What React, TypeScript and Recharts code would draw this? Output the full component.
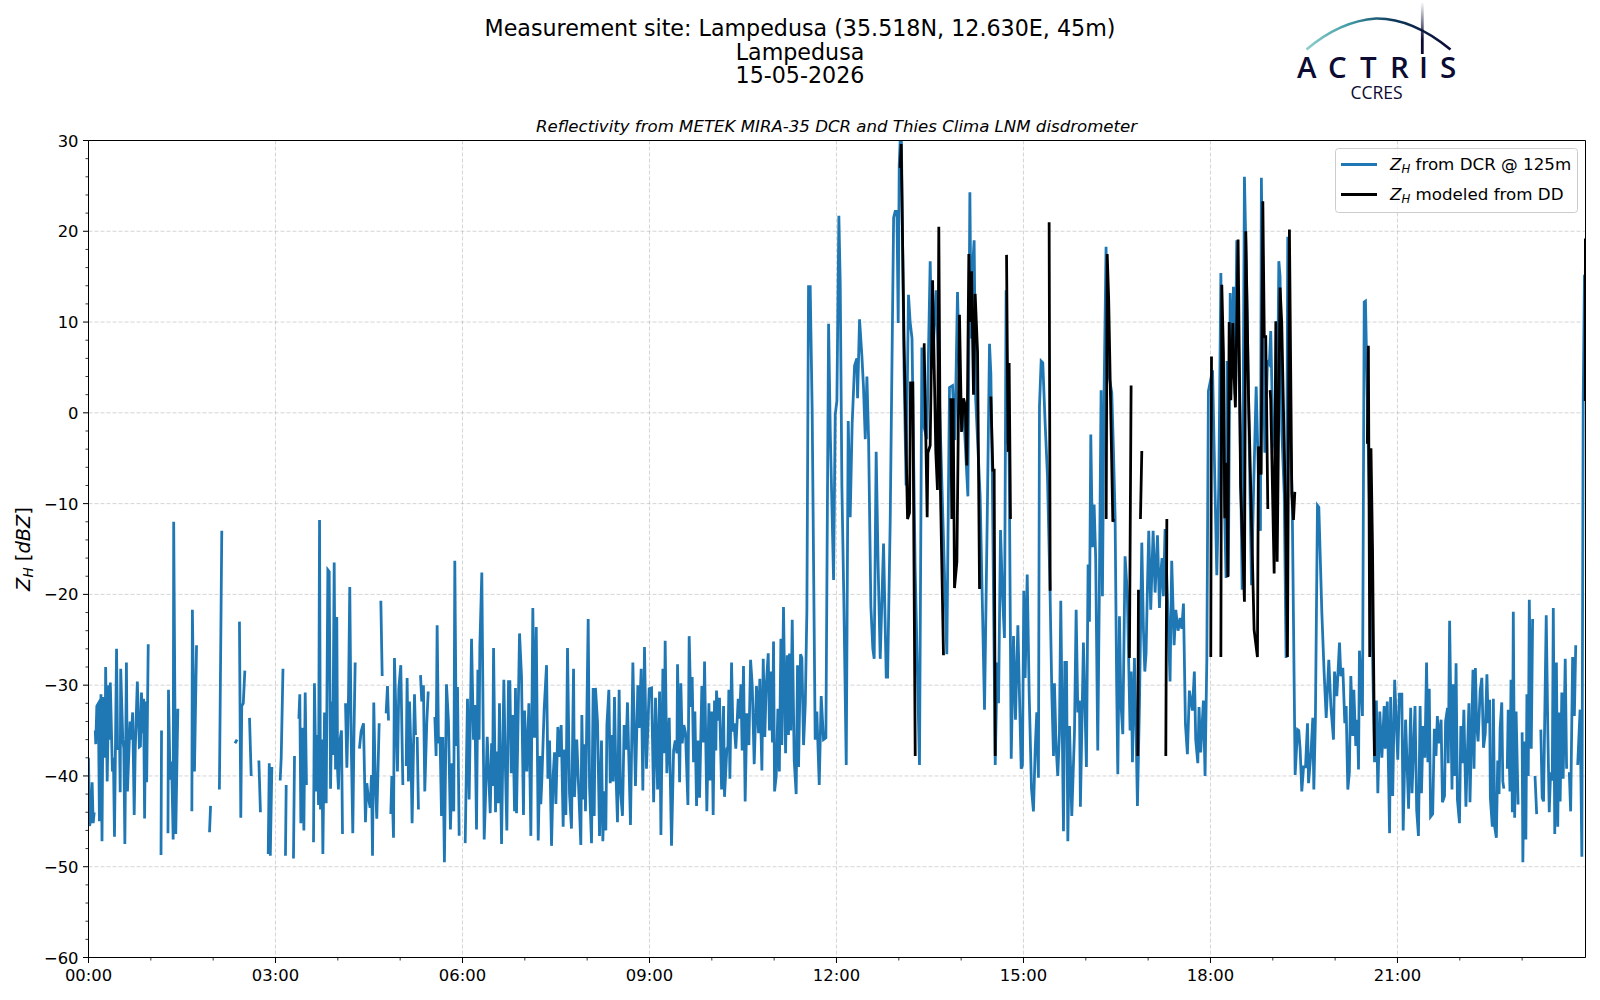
import React from "react";
import { LineChart, Line, XAxis, YAxis, CartesianGrid, ReferenceLine, Legend } from "recharts";

type P = [number, number | null];
const g = null;

const dcrNight1: P[] = [
[0,-38],[1,-45.5],[2,-45],[3.5,-40.7],[4.5,-45.2],[5.5,-44],[5.8,g],
[6.5,-35],[7,-36.5],[8,-32.3],[9.5,-32],[10.5,-45],[12,-31],[13,-47.2],[14,-31.3],[16,-38],[16.5,-28],[18,-40.6],[19.5,-30],[20.5,-36],[21,-29.7],[23,-39.5],[24,-38],[25,-46.7],[27,-26],[28,-37],[30,-37],[30.5,-41.8],[31,-28.2],[33,-36],[34,-37],[35,-47.5],[36.5,-27.5],[37.5,-41.7],[39,-37],[40,-34],[41,-36],[42.5,-33],[44,-44.3],[45,-37],[47,-29.6],[49,-36.8],[50,-36.7],[51,-30.8],[52,-35.3],[53,-31.5],[54,-44.7],[55,-31.8],[56,-40.7],[57.5,-25.5],[60,g],
[69.8,-48.7],[70.3,-35],[72,g],[76.5,-46.3],[77,-30.5],[78.5,-40.4],[80,-38.4],[81.5,-47],[82,-12],[84,-46.4],[86,-32.6],[88,g],
[99.5,-43.9],[100,-21.7],[102,-39.5],[104,-25.6],[106,g],[116.5,-46.2],[117.5,-43.3],[120,g],[126,-41.5],[128.3,-13],[130,g],
[141,-36.4],[143,-36],[144,g],[145.3,-23],[146.6,-44.6],[147.5,-32.3],[149,-32],[150.5,-28.4],[152,g],[155,-33.6],[156.6,-40],[158,g],[164,-38.3],[165.5,-44],[167,g],
[173,-48.6],[174,-38.6],[175,-48.8],[176.5,-39],[178,g],[184.5,-40.5],[185.5,-38],[187.2,-28.2],[188,g],[189.6,-48.8],[190.3,-41],[192,g],[197.3,-49.1],[198.3,-37.8],[200,g],
[202.5,-33.7],[203.4,-31],[204.4,-45.2],[205.7,-34.7],[207.3,-46],[208.6,-30.8],[209.8,-41],[212,g],
[216.6,-47.3],[217.5,-29.8],[219.1,-41.7],[220.4,-35.5],[221.4,-43.2],[222.4,-11.8],[223.3,-43.7],[224.6,-36],[225.6,-48.6],[227.2,-33],[228.8,-43],[230.4,-17.3],[231.7,-17.5],[233,-41.4],[234.2,-31.8],[235.2,-37.7],[236.5,-16.5],[237.8,-39.3],[239,-22.5],[239.8,-39.5],[240.6,-41.5],[241.6,-36.4],[243.5,-35],[244.5,-46.4],[246,g],
[247.4,-32],[248.7,-39.1],[250.3,-31],[251.5,-19.2],[252.8,-35.5],[254.4,-46.3],[255.6,-35],[256.7,-27.5],[258,g],
[260.8,-37],[262.4,-35.1],[264.7,-34.2],[266.6,-45.1],[267.9,-40.8],[269.2,-42.2],[271.1,-43.5],[272.4,-39.9],[273.4,-48.8],[274.6,-31.9],[276,-40.4],[277.5,-44.7],[279.8,-34.2],[280.5,g],[281.4,-20.7],[282.7,-29],[284,g],[286.5,-33.1],[287.8,-30.1],[288.8,-33.9],[290,g],
[291,-44.2],[292,-40],[293.6,-46.8],[294.5,-27],[296.1,-34],[297.4,-39.5],[298.7,-30.4],[300.6,-27.8],[302.6,-41],[304,g],
[305.8,-38.9],[306.7,-29.2],[308,-40.6],[309,-31.8],[310.2,-36.5],[311.5,-45.2],[313.8,-31],[314.8,-35.5],[315.6,g],[316.4,-35.7],[317.6,-43.7],[318.6,g],
[319.6,-28.9],[320.8,-31.8],[322.4,-30],[323.7,-41.7],[325.6,-34.2],[327,-30.7],[329,g],
[333.4,-33.5],[334.6,-37.8],[335.6,-23.4],[336.9,-36.4],[338.4,-35.7],[339.8,-44.4],[341,-35.7],[342.6,-49.5],[344.6,-29.9],[346.5,-34],[348.4,-45.9],[350,-38.6],[351.6,-43.9],[352.6,-16.3],[354,-36.7],[355.2,-30.2],[356.8,-46.6],[358,g],
];

const dcrNight2: P[] = [
[362.6,-47.4],[364.8,-31.5],[366.4,-42.6],[368.7,-24.9],[370.6,-36],[371.9,-32.2],[373.5,-45.9],[374.8,-28.3],[376,-36],[376.7,-25.8],[378.6,-17.6],[380.9,-47],[382.5,-41.1],[383.8,-35.7],[386.7,-44.1],[388,-36.4],[389,-41.1],[389.9,-25.9],[391.8,-44],[393,-37.3],[394.4,-43],[395.6,-32],[397.6,-47.5],[399.8,-29.4],[401.1,-38],[402.7,-46],[404.3,-29.6],[405.6,-29.6],[406.9,-39.7],[408.5,-33.3],[410.1,-43.9],[411,-30.3],[412,-44.1],[414.9,-24.3],[416.8,-29],[418.7,-44.3],[419.7,-32.8],[421.9,-39.5],[423.9,-32],[425.8,-46.6],[427.7,-21.5],[429.3,-35.8],[431,-23.6],[432.9,-47.1],[434.5,-37.8],[435.4,-43.1],[436.4,-40.4],[438.6,-32.7],[440.9,-27.8],[442.2,-40.3],[443.8,-36.1],[445.7,-47.7],[447.3,-39.9],[448.6,-37.4],[449.9,-43.1],[451.8,-34.6],[453.4,-37.9],[455,-34.4],[456.9,-45.6],[458.2,-37.1],[459.5,-44.3],[461.1,-25.9],[463,-41.9],[464.9,-45.8],[466.9,-28.2],[467.8,-42.3],[470,-36],[472,-41.9],[473.9,-47.6],[474.9,-33.3],[476.2,-42.6],[477.4,-36.5],[478.4,-43.9],[481,-22.7],[482.3,-41.2],[484.2,-47.4],[485.8,-30.3],[486.8,-44.4],[488,-30.3],[490,-34.1],[491.9,-46.6],[493.8,-36.1],[495.1,-47.2],[496.4,-41.7],[498,-46],[499,-34.4],[500.9,-30.5],[502.2,-40.8],[503.8,-35.5],[505,-40.6],[506.3,-31.3],[507.6,-39.3],[509.2,-45.1],[510.8,-30.5],[512.1,-41.7],[514,-44.4],[515.6,-34.4],[517.5,-37.1],[518.8,-31.9],[521.7,-45.4],[524,-27.5],[526.5,-41.1],[528.8,-30],[530,-34.7],[532,-28.2],[533.6,-41.6],[535.2,-25.8],[537.1,-39.2],[539.7,-30.4],
];

const dcrMorning: P[] = [
[542,-30.3],[544,-42.9],[545.8,-31.4],[547.8,-41.5],[549.7,-30.7],[551,-46.5],[552.9,-28.2],[554.2,-37.5],[555.1,-25.1],[556.7,-39.7],[559,-33.6],[561.2,-47.7],[563.2,-37.2],[564.8,-36.1],[566.4,-37.5],[567,-27.7],[569,-40.7],[570.2,-29.8],[571.5,-36.4],[573.1,-34.4],[574.7,-35.3],[577,-43.2],[578.2,-24.6],[579.8,-32.4],[581.1,-29.1],[582.4,-38.5],[583.7,-32.9],[585.3,-43.3],[586.6,-36.1],[588.2,-42.4],[590.4,-30.1],[592,-36.3],[593,-27.4],[595.2,-43.9],[597.2,-32],[598.4,-40.5],[600,-32.9],[601.3,-44.3],[602.6,-31.7],[603.9,-37.2],[604.5,-30.6],[606.1,-33.9],[607.4,-31.4],[609.4,-41.5],[611.3,-32.3],[612.2,-42.3],[614.5,-37],[615.5,-36.8],[616.4,-30.5],[617.4,-40.3],[619,-27.5],[620.3,-35.1],[621.5,-34.2],[623.1,-37],[625.4,-31.5],[626.7,-33.7],[628,-29.9],[629.2,-37.2],[630.5,-27.9],[632.1,-42.8],[633.7,-33.1],[635.7,-36.6],[637.3,-27.2],[638.9,-30],[640.8,-38.7],[643,-30.1],[645,-35.3],[646.2,-29.3],[648.2,-39.4],[649.5,-27.1],[651,-35.7],[652.3,-30.2],[654.3,-26.5],[655.5,-35],[656.8,-28.5],[658.4,-36.3],[659.4,-25.2],[660.4,-41.7],[662,-40],[663.6,-32.6],[665,-39.5],[666.5,-24.9],[667.4,-36.6],[669,-21.4],[671,-37.5],[672.6,-26.7],[673.8,-35.5],[674.8,-26.5],[676,-35],[677.4,-22.8],[679.3,-38.3],[681.2,-42],[682.5,-27.8],[683.5,-39],[685.4,-26.6],[686.7,-27],[688.3,-36.6],[690,-32],[691.5,-21.8],[693.1,13.9],[694.7,13.9],[696.6,0.3],[699.5,-36],[701.1,-32.9],[703.4,-41],[705.3,-31.2],[707.5,-36],[709.8,-35.8],
];

const dcrNoon: P[] = [
[712.4,9.8],[714,-2],[717.2,-18.4],[718.8,-0.2],[720.4,1.3],[722.3,21.7],[723.6,14.3],[725.2,-8],[727,-20],[729.4,-38.8],[731.3,-0.9],[733.2,-11.5],[735.1,-1.2],[737.4,5.2],[739.6,6],[740.3,1.6],[742.2,10.3],[744.5,6.2],[746,2.8],[747.7,-2.9],[749.3,4],[750.9,-2.9],[753.1,-21.3],[755,-26],[756.3,-27.1],[758.2,-4.3],[760.1,-16.9],[762.1,-27.1],[765.3,-14.4],[767.9,-29.1],[769.2,-29.1],[771.7,-12],[775,21.5],[776.5,22.2],[778.2,22.2],[779.4,9.9],[780.4,27.4],[781.3,30],[782.5,30],[785,5],[787,-8],[789.3,13],[790.9,10],[792.7,8.2],[795.7,-16.9],[799.9,-38.8],[802.2,7.2],[804.4,-1.6],[807,-2.9],[810.2,16.7],[812.1,4.8],[814,9],[816,13.5],[820,-2],[826.2,-26.6],[828.8,2.8],[831.7,3],[834,-3],[836.5,13.3],[839,1],[842,1],[846.5,-9.2],[848.4,24.3],[849.7,8.2],[851,16],[852.5,19],[854,1.5],[858.3,-9.2],[862.5,-32.7],[865.4,-9.2],[867.3,7.6],[868.6,4.3],[870,-7],[872.8,-38.8],[874.7,-27.5],[876,-32],[877.9,-12.9],[879.8,-20],[881.7,-24.8],[883.3,13.5],[884.6,-2.6],[886.2,-4.4],[888.2,-38.1],[890.4,-24.6],[892.3,-33.8],[894.6,-23.4],[897.8,-39.2],[899,-38.8],[900.3,-19.6],[901.6,-29.2],[903.6,-17.8],[905.5,-31],[907.7,-41.4],[909.6,-43.9],[911.3,-37],[912.8,-33],[914.4,-40.2],[915.4,0.7],[917,5.7],[918.6,5.5],[920.8,-1],[923.1,-7],[925.6,-19.8],[927.3,-31],[928.9,-37.8],[929.8,-29.8],[931.4,-36.7],[933,-40],[934.6,-35.4],[935.9,-20.7],[938.5,-46.1],[939.8,-27.5],[941.4,-27.5],[942.7,-47.2],[944.3,-34.5],[946.5,-44.4],[949.1,-35.2],[950.7,-21.7],[952.3,-33],[953.9,-31.7],[954.8,-43.4],[957.7,-25.3],[960.6,-39],[962.2,-16.7],[963.5,-23],[964.8,-2.4],[966.4,-14.8],[968,-10.1],[969.5,-16],[971.5,-37.2],[973,-20],[974.7,2.5],[976,-20.2],[977.6,2.4],[979.5,18.3],[981,5],[985,2.2],[986.6,-4.1],[988.2,-11.5],[989.7,-30],[990.8,-39.8],[992.4,-22.4],[993.7,-31.7],[995.6,-35.4],[997.8,-15.8],[1000,-20],[1002.6,-35],[1003.6,-28.5],[1004.9,-38.5],[1006.8,-27],[1008.4,-35],[1009.7,-43.3],[1011.6,-32.4],[1013.9,-14.3],[1015.5,-24],[1016.8,-28.5],[1018,-26.5],[1019.3,-19.3],[1020.6,-13],[1022.5,-21.7],[1024.8,-13],[1026.7,-19.8],[1029,-13.5],[1030.9,-21.5],[1032.2,-17.6],[1033.4,-16],[1034.7,-20.2],[1036.3,-12.8],[1038.5,-20],[1041.1,-29.6],[1042.7,-16.3],[1045,-25.6],[1046.6,-21.7],[1048.8,-24],[1050.8,-22.6],[1052.4,-23.8],[1054,-21],[1055.9,-34.3],[1057.8,-37.6],[1059.7,-30.6],[1062.6,-32.8],[1064.5,-28.5],[1065.8,-36],[1067.8,-38.6],[1069,-32.4],[1070.6,-37.4],[1073.2,-31.7],[1074.8,-40],[1076.5,-27],
];

const dcrEvening: P[] = [
[1078,2.4],[1082,4.7],[1086.1,-17.9],[1088,-8],[1090,15.4],[1092,-2],[1095,-18.2],[1096,5.7],[1097.2,-18],[1099,13.2],[1100.5,4],[1102.1,13.9],[1103.7,2],[1105.3,19],[1108.5,-1.5],[1110.5,-19.5],[1112.7,26],[1115,13],[1119.5,-19],[1121.5,-8.5],[1124,2.9],[1126.5,-8.5],[1128.1,-13],[1129,25.9],[1131,6],[1132.3,-4.4],[1134.9,5.8],[1136.7,5.4],[1138,9],[1140,-2],[1143.8,-6],[1145.8,16.7],[1147,15],[1148.7,-2],[1151,-9],[1152.8,-27],[1154.4,19.4],[1156.6,-1.5],[1158.6,-9],[1161.5,-39.9],[1163.8,-34.9],[1165,-35],[1166.3,-37],[1167.9,-41.7],[1169.6,-39],[1171.5,-39],[1173.4,-34.2],[1174.4,-40.8],[1176.9,-37.2],[1178.5,-33.6],[1179.5,-41.5],[1181,-33.8],[1183,-10.2],[1184.3,-10.4],[1187.2,-22],[1189.4,-28.6],[1191.4,-33.6],[1193.9,-27.2],[1195.9,-32.3],[1198.4,-36],[1199.4,-28.5],[1201.6,-31.2],[1204.2,-25.3],[1205.5,-29],[1207.4,-28.1],[1209.3,-34.2],[1210.6,-32.3],[1212.2,-41.5],[1213.7,-39.6],[1215.1,-29],[1217,-35.6],[1218,-30.5],[1219.9,-36.7],[1221.5,-33.8],[1222.5,-39.3],[1223.4,-26.2],[1226.3,-33.4],[1228,12.2],[1229.2,12.3],[1231.5,-1.5],[1236,-26.5],[1237.9,-38.5],[1239.7,-31.7],[1241.1,-41.9],[1243,-32.9],[1245,-38],[1247.2,-32.3],[1248.2,-37],
];

const dcrNight3: P[] = [
[1250.2,-31.8],[1252.4,-46.3],[1253.4,-31.3],[1255.4,-42.2],[1257.3,-29.4],[1260.3,-38.2],[1261.9,-31],[1264.2,-31],[1265.5,-46],[1267.8,-33.8],[1270.7,-43.6],[1272.7,-32.5],[1274,-41.9],[1276.9,-32.3],[1278.5,-43.8],[1280.2,-46.6],[1281.8,-32.3],[1283.1,-41.9],[1284.7,-34.5],[1286.4,-38],[1288,-27.5],[1289.3,-38.5],[1290.6,-30.4],[1291.9,-44.5],[1293.9,-44.2],[1295.5,-34.8],[1297.1,-37.8],[1298.4,-33.4],[1299.8,-36.4],[1302,-33.8],[1303.3,-42.9],[1305.3,-42.2],[1306.3,-34],[1308.2,-32.5],[1308.9,-38.6],[1310.2,-22.9],[1312.5,-41.5],[1313.5,-29.9],[1315.1,-40],[1316.4,-27.6],[1317.7,-42.6],[1319.7,-45.2],[1321,-34.5],[1322.6,-38.6],[1323.9,-32.7],[1325.9,-43.4],[1327.2,-38],[1328.8,-32],[1329.8,-42.9],[1332.7,-28.3],[1333.7,-39.2],[1335,-28.1],[1336.3,-34.5],[1337.6,-36.2],[1339.6,-30.6],[1341.2,-29.2],[1342.8,-36.9],[1344.5,-35.3],[1346.1,-28.8],[1347.4,-34.2],[1348.7,-31.6],[1349.4,-42.4],[1351.3,-45.6],[1352.3,-31.5],[1353.6,-45.6],[1355.2,-46.8],[1356.5,-38.3],[1357.8,-42],[1358.8,-34.8],[1360.4,-31.9],[1361.4,-40.6],[1362.4,-41.4],[1364,g],
[1365.7,-39.2],[1366.6,-32.7],[1368.3,-41.7],[1369.3,-29.4],[1370.6,-44],[1371.5,-21.9],[1372.8,-44.6],[1374.2,-32.9],[1376.1,-43],[1377.4,-43],[1379,g],[1380,-35.2],[1380.7,-49.5],[1382,-36.2],[1383.6,-47],[1384.6,-31],[1385.9,-40],[1386.9,-20.6],[1388.8,-37],[1390.1,-22.7],[1391,g],
[1392.4,-40],[1394,-44.2],[1396,g],[1398,-34.9],[1399.3,-42.4],[1400.6,-42.8],[1403.2,-22.3],[1404.8,-35.5],[1406.1,-44],[1407.4,-39.6],[1409,-40.5],[1410,-21.5],[1411.4,-46.4],[1413,-27.5],[1414.3,-45.6],[1415.5,-33],[1416.6,-42.8],[1418.2,-30.8],[1419.5,-40.3],[1421.5,-27.1],[1422.8,-39.2],[1424,g],
[1425.4,-39.6],[1426.7,-43.9],[1428.6,-26.9],[1430.3,-33.4],[1431.6,-25.6],[1432.5,g],
[1433.5,-38.8],[1435.8,-32.7],[1437.5,-48.9],[1438.8,1.6],[1440,15.2],[1440.5,12],
];

const ddSpells: P[] = [
[781.3,27],[782.3,29.6],[785,8],[788.4,-11.7],[790.3,-11],[791.3,3.3],[793.5,3.3],[795.8,-37.8],[797,g],
[803.2,7.5],[804.4,7.5],[806.2,-4],[807.3,-11.5],[808,-4.4],[810.2,-3.6],[812.5,14.6],[815.6,-4.3],[817.2,-8.5],[818.5,20.5],[820,-8],[823,-26.7],[825,g],
[830,1.6],[831,-11.7],[832.3,1.6],[833.6,-19.3],[835.9,-16.4],[838.4,10.8],[840.4,-2.1],[842.3,1.6],[844,0.8],[845.5,-5.8],[847.4,17.5],[848.7,10],[850,15.6],[851.9,2],[853.5,13.1],[855.8,6.7],[857.7,-19.4],[860,g],
[868.6,1.8],[870.5,-6.3],[871.8,-6.3],[872.8,-37.8],[875,g],
[883.7,17.4],[885.2,-4.3],[886.2,5.5],[887.5,-11.7],[890,g],
[924.7,21],[925.7,-19.6],[928,g],
[979.6,-11.7],[980.6,17.5],[982,12.6],[986,-12],[986.9,-11.7],[990,g],
[1002,-27],[1003.6,3],[1006,g],[1010,-37.8],[1010.7,-19.5],[1011.8,g],[1012.6,-11.7],[1013.9,-4.2],[1016,g],[1037,-37.8],[1038,-11.7],[1040,g],
[1080.3,-26.9],[1081,6.2],[1083,g],
[1090,-26.9],[1090.9,14.1],[1092.5,6.6],[1093.8,-11.6],[1095.4,-5.5],[1096.7,-18.1],[1098,10],[1099.6,1.4],[1101.5,9.9],[1102.8,4],[1104,0.6],[1106.6,19.1],[1109,-8],[1112.7,-20.8],[1114,20],[1116.6,2],[1122,-23.9],[1125.2,-26.9],[1126.2,-3.7],[1128.8,-6.8],[1130.4,23.3],[1131.8,8.4],[1133.2,8.4],[1135.2,-10.6],[1136,g],
[1137.4,2.5],[1138,1.4],[1141.3,-17.7],[1142.9,10.1],[1144.2,-16.4],[1147,13.8],[1148.6,9.9],[1152.2,-10.5],[1154.1,-26.9],[1156,20.2],[1158.3,-9],[1159.9,-11.8],[1161.2,-8.7],[1163,g],
[1231,-3.4],[1232,7.4],[1233.3,-26.9],[1234.5,-3.9],[1236,-15],[1237.9,-37.8],[1240,g],
[1440.7,1.3],[1440.9,19.2],
];

const dcrBlocks = [dcrNight1, dcrNight2, dcrMorning, dcrNoon, dcrEvening, dcrNight3];
const hourTicks = Array.from({ length: 24 }, (_, i) => i * 60);
const majorHours = [0, 180, 360, 540, 720, 900, 1080, 1260];
const dbzTicks = Array.from({ length: 46 }, (_, i) => -60 + i * 2);
const majorDbz = [-60, -50, -40, -30, -20, -10, 0, 10, 20, 30];

const toRows = (pts: P[]) => pts.map(([t, v]) => ({ t, v }));
const dcrRows = toRows(dcrBlocks.flat());
const ddRows = toRows(ddSpells);

const SANS = "'DejaVu Sans', sans-serif";
const TICK_FONT = 16.4;
const LINE_W = 2.78;

const XTick = (p: any) => {
  const v = p.payload.value;
  const major = v % 180 === 0;
  const hh = String(Math.floor(v / 60)).padStart(2, "0");
  return (
    <g>
      <line x1={p.x} x2={p.x} y1={p.y} y2={p.y + (major ? 5.5 : 3)} stroke="#000" strokeWidth={major ? 1 : 0.8} />
      {major && (
        <text x={p.x} y={p.y + 23.5} textAnchor="middle" fontFamily={SANS} fontSize={TICK_FONT} fill="#000">{hh}:00</text>
      )}
    </g>
  );
};

const YTick = (p: any) => {
  const v = p.payload.value;
  const major = v % 10 === 0;
  return (
    <g>
      <line x1={p.x} x2={p.x - (major ? 5.5 : 3)} y1={p.y} y2={p.y} stroke="#000" strokeWidth={major ? 1 : 0.8} />
      {major && (
        <text x={p.x - 10} y={p.y + 6} textAnchor="end" fontFamily={SANS} fontSize={TICK_FONT} fill="#000">
          {v < 0 ? "\u2212" + Math.abs(v) : v}
        </text>
      )}
    </g>
  );
};

const LegendBox = () => (
  <svg width={244} height={66} style={{ display: "block" }}>
    <rect x={0.5} y={0.5} width={242} height={64} rx={3} fill="#fff" fillOpacity={0.8} stroke="#ccc" />
    <line x1={6} x2={42} y1={16.5} y2={16.5} stroke="#1f77b4" strokeWidth={LINE_W} />
    <line x1={6} x2={42} y1={46.5} y2={46.5} stroke="#000" strokeWidth={LINE_W} />
    <text x={55} y={22} fontFamily={SANS} fontSize={16.7}>
      <tspan fontStyle="italic">Z</tspan>
      <tspan fontStyle="italic" fontSize={11.7} dy={3}>H</tspan>
      <tspan dy={-3}> from DCR @ 125m</tspan>
    </text>
    <text x={55} y={52} fontFamily={SANS} fontSize={16.7}>
      <tspan fontStyle="italic">Z</tspan>
      <tspan fontStyle="italic" fontSize={11.7} dy={3}>H</tspan>
      <tspan dy={-3}> modeled from DD</tspan>
    </text>
  </svg>
);

const Overlay = () => (
  <svg width={1600} height={1000} style={{ position: "absolute", left: 0, top: 0, pointerEvents: "none" }}>
    <defs>
      <linearGradient id="arc" x1="1306" x2="1451" y1="0" y2="0" gradientUnits="userSpaceOnUse">
        <stop offset="0" stopColor="#8fd0cc" />
        <stop offset="0.3" stopColor="#3f9aa5" />
        <stop offset="0.6" stopColor="#0e3a5a" />
        <stop offset="1" stopColor="#0a0a33" />
      </linearGradient>
      <linearGradient id="mast" x1="0" x2="0" y1="2" y2="40" gradientUnits="userSpaceOnUse">
        <stop offset="0" stopColor="#0a0a33" stopOpacity={0} />
        <stop offset="1" stopColor="#0a0a33" />
      </linearGradient>
    </defs>
    <text x={800} y={36} textAnchor="middle" fontFamily={SANS} fontSize={22.2}>Measurement site: Lampedusa (35.518N, 12.630E, 45m)</text>
    <text x={800} y={59.5} textAnchor="middle" fontFamily={SANS} fontSize={22.2}>Lampedusa</text>
    <text x={800} y={82.5} textAnchor="middle" fontFamily={SANS} fontSize={22.2}>15-05-2026</text>
    <text x={836.5} y={132} textAnchor="middle" fontFamily={SANS} fontSize={16.6} fontStyle="italic">Reflectivity from METEK MIRA-35 DCR and Thies Clima LNM disdrometer</text>
    <text transform="translate(30 549) rotate(-90)" textAnchor="middle" fontFamily={SANS} fontSize={19.4}>
      <tspan fontStyle="italic">Z</tspan>
      <tspan fontStyle="italic" fontSize={13.6} dy={3}>H</tspan>
      <tspan dy={-3}> [</tspan>
      <tspan fontStyle="italic">dBZ</tspan>
      <tspan>]</tspan>
    </text>
    <path d="M1306.5 49.5 Q1340 21 1376 18.5 Q1412 18 1450.5 49.5" fill="none" stroke="url(#arc)" strokeWidth={2.6} />
    <line x1={1422.3} x2={1422.3} y1={2} y2={54} stroke="url(#mast)" strokeWidth={2.8} />
    <text y={78} x="1297 1328 1360 1390 1419 1440" fontFamily="'Open Sans', sans-serif" fontWeight={600} fontSize={29.5} fill="#0b0b33">ACTRIS</text>
    <text x={1376.5} y={99} textAnchor="middle" fontFamily="'Open Sans', sans-serif" fontSize={17.5} fill="#0b0b33">CCRES</text>
  </svg>
);

export default function App() {
  return (
    <div style={{ position: "absolute", left: 0, top: 0, width: 1600, height: 1000, background: "#fff" }}>
      <LineChart width={1600} height={1000} margin={{ top: 140.5, right: 14.5, bottom: 0, left: 0 }}>
        <CartesianGrid
          stroke="#b0b0b0"
          strokeOpacity={0.6}
          strokeDasharray="4 2"
          strokeWidth={0.9}
          horizontalValues={majorDbz}
          verticalValues={majorHours}
        />
        <XAxis
          type="number"
          dataKey="t"
          domain={[0, 1441]}
          ticks={hourTicks}
          interval={0}
          height={42.5}
          tickSize={0}
          tickMargin={0}
          tickLine={false}
          tick={XTick}
          axisLine={{ stroke: "#000" }}
          allowDataOverflow
        />
        <YAxis
          type="number"
          domain={[-60, 30]}
          ticks={dbzTicks}
          interval={0}
          width={88.5}
          tickSize={0}
          tickMargin={0}
          tickLine={false}
          tick={YTick}
          axisLine={{ stroke: "#000" }}
          allowDataOverflow
        />
        <Line data={dcrRows} dataKey="v" name="DCR" stroke="#1f77b4" strokeWidth={LINE_W} dot={false} connectNulls={false} isAnimationActive={false} type="linear" />
        <Line data={ddRows} dataKey="v" name="DD" stroke="#000" strokeWidth={LINE_W} dot={false} connectNulls={false} isAnimationActive={false} type="linear" />
        <ReferenceLine y={30} stroke="#000" strokeWidth={1} />
        <ReferenceLine x={1441} stroke="#000" strokeWidth={1} />
        <Legend
          layout="vertical"
          align="center"
          verticalAlign="middle"
          wrapperStyle={{ position: "absolute", left: 1335, top: 148, width: 244, height: 66 }}
          content={LegendBox}
        />
      </LineChart>
      <Overlay />
    </div>
  );
}
